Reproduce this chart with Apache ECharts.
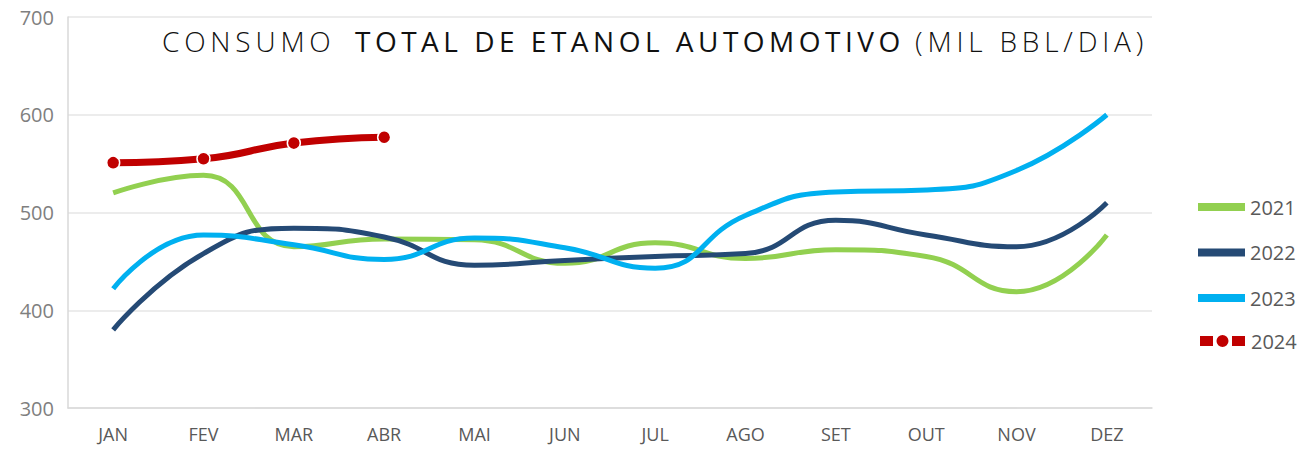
<!DOCTYPE html>
<html>
<head>
<meta charset="utf-8">
<script src="https://cdn.jsdelivr.net/npm/echarts@6/dist/echarts.min.js"></script>
<style>
body { margin: 0; background: #fff; }
#main { width: 1316px; height: 449px; }
/* title letters are spread out like the original */
#main svg text[style*="28px"] { letter-spacing: 4.5px; }
#main svg text[style*="28px"][style*="300"] { letter-spacing: 4.8px; }
</style>
</head>
<body>
<div id="main"></div>
<script>
var months = ['JAN', 'FEV', 'MAR', 'ABR', 'MAI', 'JUN', 'JUL', 'AGO', 'SET', 'OUT', 'NOV', 'DEZ'];
var y2021 = [520, 538, 465, 473, 472, 448, 469, 453, 462, 455, 419, 477];
var y2022 = [380, 458, 484, 475, 446, 451, 455, 458, 492, 477, 465, 510];
var y2023 = [422, 477, 467, 452, 474, 464, 443, 497, 521, 523, 543, 600];
var y2024 = [551, 555, 571, 577];

var chart = echarts.init(document.getElementById('main'), null, { renderer: 'svg' });

function plain(name, data, color) {
    return {
        name: name,
        type: 'line',
        data: data,
        smooth: 0.5,
        symbol: 'none',
        lineStyle: { width: 5, color: color },
        itemStyle: { color: color }
    };
}

function titlePart(text, left, weight) {
    return {
        text: text,
        left: left,
        top: 22,
        textStyle: { fontFamily: 'Open Sans', fontWeight: weight, fontSize: 28, color: '#111' }
    };
}

var legendText = { fontFamily: 'Open Sans', fontSize: 20, color: '#595959' };

var option = {
    backgroundColor: '#fff',
    animation: false,
    title: [
        titlePart('CONSUMO', 157, 300),
        titlePart('TOTAL DE ETANOL AUTOMOTIVO', 350, 500),
        titlePart('(MIL BBL/DIA)', 910, 300)
    ],
    legend: [
        {
            orient: 'vertical',
            left: 1193,
            top: 192,
            itemGap: 25.5,
            itemWidth: 47,
            itemHeight: 8,
            icon: 'rect',
            textStyle: legendText,
            data: ['2021', '2022', '2023']
        },
        {
            orient: 'vertical',
            left: 1193,
            top: 326,
            itemWidth: 47,
            itemHeight: 14,
            icon: 'path://M0,1H15V13H0Z M16.5,7A7,7 0 1,1 30.5,7A7,7 0 1,1 16.5,7Z M32,1H47V13H32Z',
            textStyle: legendText,
            data: ['2024']
        }
    ],
    grid: { left: 68, right: 164, top: 17, bottom: 41 },
    xAxis: {
        type: 'category',
        data: months,
        boundaryGap: true,
        axisLine: { lineStyle: { color: '#D9D9D9', width: 1.5 } },
        axisTick: { show: false },
        axisLabel: { fontFamily: 'Open Sans', fontSize: 18, color: '#595959', margin: 17 }
    },
    yAxis: {
        type: 'value',
        min: 300,
        max: 700,
        interval: 100,
        axisLine: { show: true, lineStyle: { color: '#D9D9D9', width: 1.5 } },
        axisTick: { show: false },
        splitLine: { lineStyle: { color: '#E6E6E6', width: 1.5 } },
        axisLabel: { fontFamily: 'Open Sans', fontSize: 20, color: '#7F7F7F', margin: 14 }
    },
    series: [
        plain('2021', y2021, '#92D050'),
        plain('2022', y2022, '#254A75'),
        plain('2023', y2023, '#00B0F0'),
        {
            name: '2024',
            type: 'line',
            data: y2024,
            smooth: 0.5,
            symbol: 'circle',
            symbolSize: 13,
            lineStyle: { width: 7, color: '#C00000' },
            itemStyle: { color: '#C00000', borderColor: '#fff', borderWidth: 1.5 }
        }
    ]
};

chart.setOption(option);
</script>
</body>
</html>
